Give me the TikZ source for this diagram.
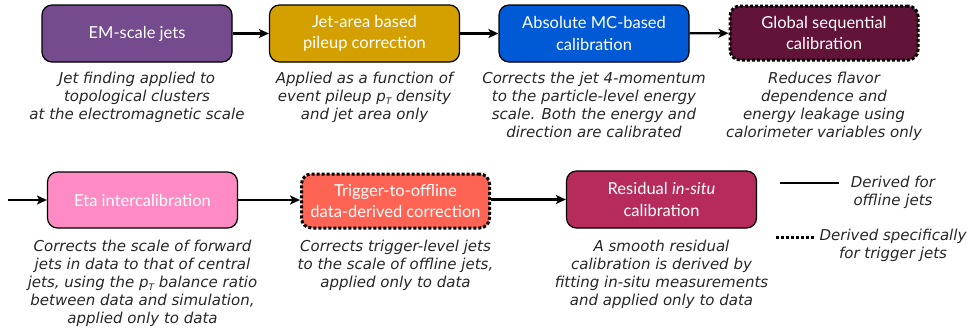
\documentclass[tikz,border=0pt]{standalone}
\usepackage{fontspec}
\setmainfont{Lato}
\newfontfamily\descfont{DejaVu Sans}
\usetikzlibrary{arrows.meta,shadows}
\definecolor{cpurple}{HTML}{744B8D}
\definecolor{cgold}{HTML}{D4A000}
\definecolor{cblue}{HTML}{0059D5}
\definecolor{cmaroon}{HTML}{621338}
\definecolor{cpink}{HTML}{FF8BC5}
\definecolor{ccoral}{HTML}{FF6353}
\definecolor{ccrimson}{HTML}{B72B5C}
\newcommand{\pT}{p\raisebox{-0.35ex}{\fontsize{9}{9}\selectfont T}}
\tikzset{
  box/.style={draw=black, line width=1.2pt, rounded corners=10pt, text=white,
    minimum width=190pt, minimum height=57pt, align=center, inner sep=2pt,
    font=\fontsize{16.5}{21.5}\selectfont,
    drop shadow={opacity=0.25, shadow xshift=0.6pt, shadow yshift=-0.6pt}},
  trigbox/.style={box, line width=3pt, dash pattern=on 3pt off 2pt,
    minimum width=188pt, minimum height=54pt},
  desc/.style={align=center, inner sep=0pt, anchor=north,
    font=\descfont\itshape\fontsize{15}{18}\selectfont, text=black!85},
  flow/.style={line width=2.4pt, -{Stealth[length=10pt,width=9pt,inset=2.5pt]}},
}
\begin{document}
\begin{tikzpicture}[x=1pt,y=-1pt]
\useasboundingbox (0,0) rectangle (971,335);
% row 1
\node[box, fill=cpurple] (b1) at (137,33.5) {EM-scale jets};
\node[box, fill=cgold] (b2) at (364.5,33.5) {Jet-area based\\pileup correction};
\node[box, fill=cblue] (b3) at (594,33.5) {Absolute MC-based\\calibration};
\node[trigbox, fill=cmaroon] (b4) at (824,33) {Global sequential\\calibration};
\node[desc] (d1) at (137,72) {Jet finding applied to\\topological clusters\\at the electromagnetic scale};
\node[desc] (d2) at (364.5,72) {Applied as a function of\\event pileup \pT{} density\\and jet area only};
\node[desc] (d3) at (594,72) {Corrects the jet 4-momentum\\to the particle-level energy\\scale. Both the energy and\\direction are calibrated};
\node[desc] (d4) at (824,72) {Reduces flavor\\dependence and\\energy leakage using\\calorimeter variables only};
% row 2
\node[box, fill=cpink, minimum height=56pt] (b5) at (142.5,200) {Eta intercalibration};
\node[trigbox, fill=ccoral] (b6) at (395.5,201) {Trigger-to-offline\\data-derived correction};
\node[box, fill=ccrimson] (b7) at (661.5,199.5) {Residual \textit{in-situ}\\calibration};
\node[desc] (d5) at (142.5,240) {Corrects the scale of forward\\jets in data to that of central\\jets, using the \pT{} balance ratio\\between data and simulation,\\applied only to data};
\node[desc] (d6) at (395.5,240) {Corrects trigger-level jets\\to the scale of offline jets,\\applied only to data};
\node[desc] (d7) at (661.5,240) {A smooth residual\\calibration is derived by\\fitting in-situ measurements\\and applied only to data};
% arrows
\draw[flow] (b1) -- (b2);
\draw[flow] (b2) -- (b3);
\draw[flow] (b3) -- (b4);
\coordinate (start) at (8,200);
\draw[flow] (start) -- (b5.west);
\draw[flow] (b5) -- (b6.west |- b5);
\draw[flow] (b6.east |- b7) -- (b7);
% legend
\coordinate (l1a) at (780,183);
\coordinate (l1b) at (839,183);
\draw[line width=1.5pt] (l1a) -- (l1b);
\node[desc] (t1) at (893,176) {Derived for\\offline jets};
\coordinate (l2a) at (776,237);
\coordinate (l2b) at (815,237);
\draw[line width=3pt, dash pattern=on 3pt off 2pt] (l2a) -- (l2b);
\node[desc] (t2) at (893,229) {Derived specifically\\for trigger jets};
\end{tikzpicture}
\end{document}
